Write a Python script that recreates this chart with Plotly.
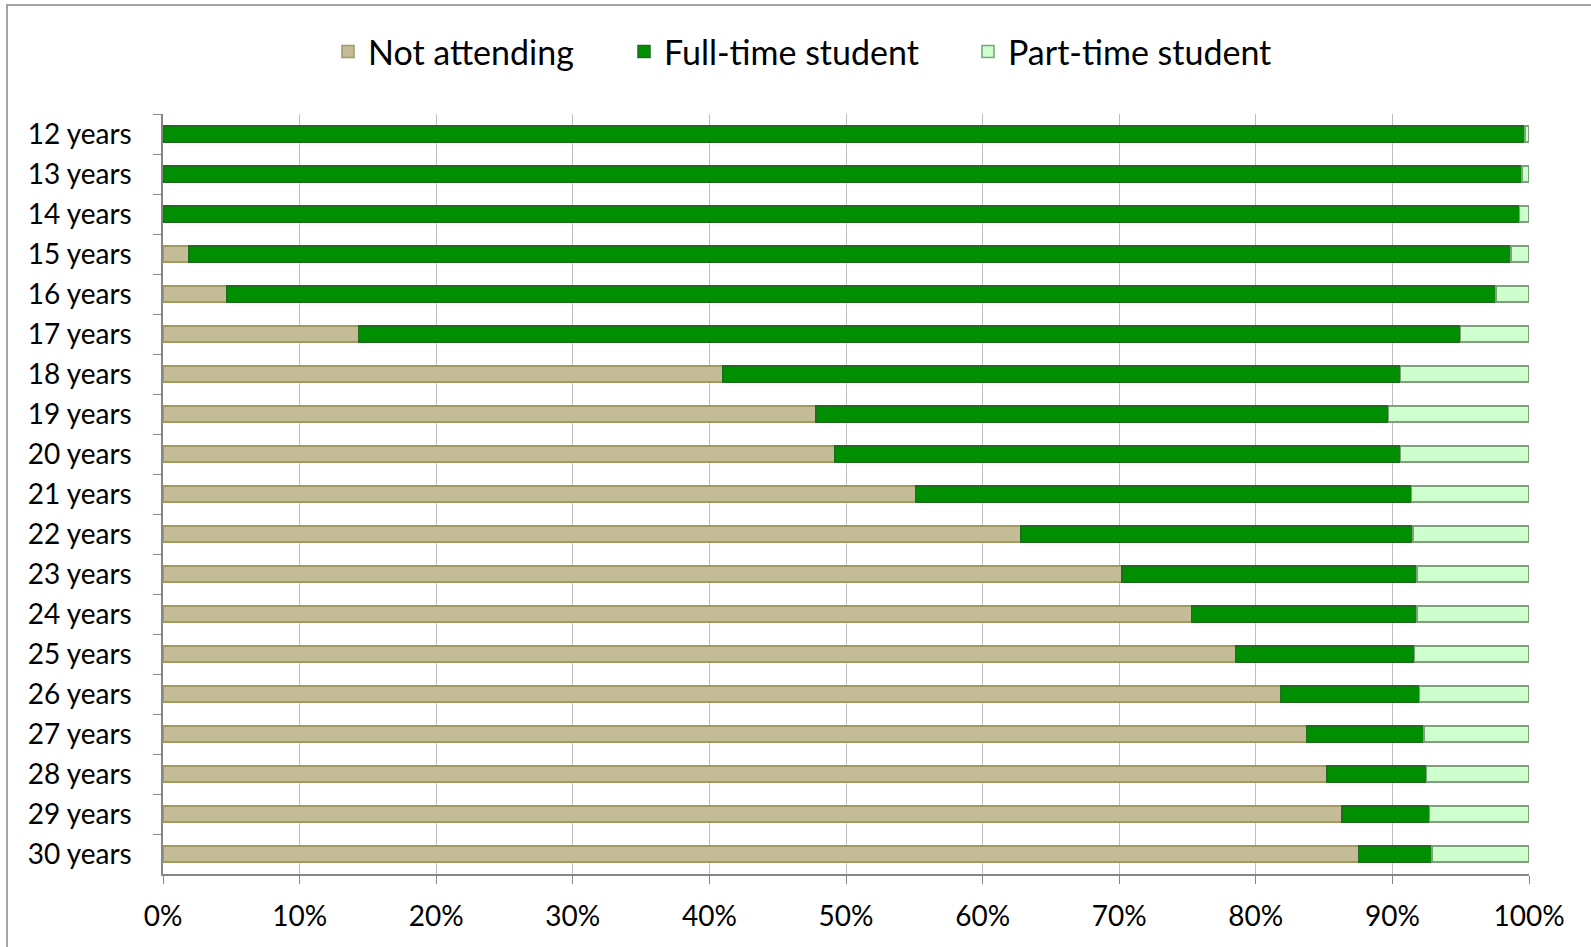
import plotly.graph_objects as go

ages = [f"{a} years" for a in range(12, 31)]

# shares in percent
not_attending = [0.0, 0.0, 0.0, 1.9, 4.7, 14.3, 41.0, 47.8, 49.2, 55.1,
                 62.8, 70.2, 75.3, 78.5, 81.8, 83.7, 85.2, 86.3, 87.5]
full_time = [99.7, 99.5, 99.3, 96.8, 92.9, 80.7, 49.6, 41.9, 41.4, 36.3,
             28.7, 21.6, 16.5, 13.1, 10.2, 8.6, 7.3, 6.4, 5.4]
part_time = [round(100 - n - f, 1) for n, f in zip(not_attending, full_time)]

W, H = 1591, 947
ML, MR, MT, MB = 163, 62, 114, 73
FONT = "Lato"
pw = W - ML - MR
ph = H - MT - MB

# name, values, fill, edge, legend id, legend left edge in px
series = [
    ("Not attending", not_attending, "#C4BC96", "#A29A5E", "legend", 328),
    ("Full-time student", full_time, "#008F00", "#1E6E1E", "legend2", 624),
    ("Part-time student", part_time, "#CCFFCC", "#7F9F7F", "legend3", 968),
]

fig = go.Figure()
legends = {}
for name, vals, fill, edge, leg, left_px in series:
    fig.add_trace(go.Bar(
        y=ages,
        x=[v / 100 for v in vals],
        name=name,
        orientation="h",
        legend=leg,
        showlegend=True,
        marker=dict(color=fill, line=dict(color=edge, width=1.5)),
    ))
    legends[leg] = dict(
        orientation="h",
        x=(left_px - ML) / pw,
        xanchor="left",
        y=1 + (MT - 52) / ph,
        yanchor="middle",
        font=dict(size=34),
        bgcolor="rgba(0,0,0,0)",
    )

fig.update_layout(
    width=W,
    height=H,
    showlegend=True,
    barmode="stack",
    bargap=0.6,
    margin=dict(l=ML, r=MR, t=MT, b=MB),
    paper_bgcolor="white",
    plot_bgcolor="white",
    font=dict(family=FONT, size=28, color="black"),
    shapes=[dict(
        type="rect", xref="paper", yref="paper",
        x0=(7 - ML) / pw, x1=1 + (MR + 40) / pw,
        y0=-(MB + 40) / ph, y1=1 + (MT - 5) / ph,
        line=dict(color="#878787", width=1.5),
        fillcolor="rgba(0,0,0,0)",
        layer="below",
    )],
    **legends,
)

fig.update_xaxes(
    range=[0, 1],
    dtick=0.1,
    tickformat=".0%",
    showgrid=True,
    gridcolor="#BFBFBF",
    gridwidth=1,
    showline=True,
    linecolor="#868686",
    linewidth=1.5,
    ticks="outside",
    ticklen=8,
    tickcolor="#868686",
    ticklabelstandoff=9,
    zeroline=False,
    tickfont=dict(size=28),
)
fig.update_yaxes(
    autorange="reversed",
    showline=True,
    linecolor="#868686",
    linewidth=1.5,
    ticks="outside",
    tickson="boundaries",
    ticklen=8,
    tickcolor="#868686",
    ticklabelstandoff=24,
    showgrid=False,
    tickfont=dict(size=28),
)

fig.write_html(
    "out.html",
    config={"displayModeBar": False},
    post_script="document.body.style.margin = '0';",
)
